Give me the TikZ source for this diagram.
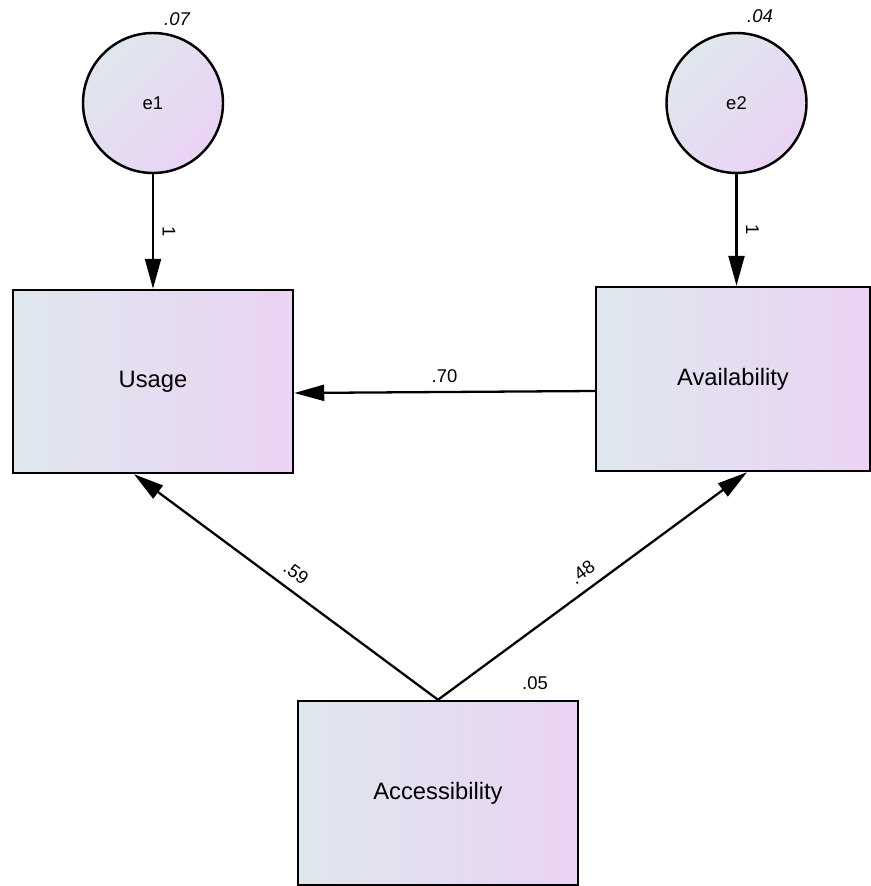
\documentclass[tikz,border=0pt]{standalone}
\usepackage{fontspec}
\setmainfont{Liberation Sans}
\usetikzlibrary{arrows.meta,positioning}
\definecolor{leftshade}{HTML}{DFE7EE}
\definecolor{rightshade}{HTML}{EAD3F3}
\newcommand{\edgefont}{\fontsize{10.5}{12}\selectfont}
\newcommand{\boxfont}{\fontsize{13.5}{16}\selectfont}

\begin{document}
\begin{tikzpicture}
        %\useasboundingbox keeps the page at the size of the scan
        \tikzset{observed/.style = {rectangle, draw, line width=1.4pt, left color=leftshade, right color=rightshade, minimum width=5.6cm, minimum height=3.66cm, font=\boxfont},
                 unique/.style = {circle, draw, line width=1.4pt, left color=leftshade, right color=rightshade, shading angle=45, minimum size=2.8cm, inner sep=0pt, font=\edgefont},
                 regline/.style = {draw, line width=1.3pt, -{Triangle[length=0.6cm, width=0.32cm]}},
                 coef/.style = {font=\edgefont}}
        \useasboundingbox (0,0) rectangle (17.42,-17.72);
        \node[unique] (e1) at (3.06,-2.06) {e1};
        \node[unique] (e2) at (14.73,-2.06) {e2};
        \node[observed] (usage) at (3.06,-7.63) {Usage};
        \node[observed, minimum width=5.48cm, minimum height=3.68cm] (avail) at (14.66,-7.58) {Availability};
        \node[observed, minimum height=3.68cm] (access) at (8.76,-15.86) {Accessibility};
        % variances
        \node[coef, font=\edgefont\itshape] (var1) at (3.54,-0.38) {.07};
        \node[coef, font=\edgefont\itshape] (var2) at (15.2,-0.32) {.04};
        \node[coef] (var3) at (10.7,-13.66) {.05};
        % paths
        \draw[regline] (e1) -- (usage) node[coef, midway, xshift=0.32cm, rotate=-90] {1};
        \draw[regline] (e2.south) -- (e2.south |- avail.north) node[coef, midway, xshift=0.32cm, rotate=-90] {1};
        \draw[regline] ([yshift=-0.24cm]avail.west) -- ([yshift=-0.23cm]usage.east) node[coef, midway, yshift=0.32cm] {.70};
        \draw[regline] (access.north) -- ([xshift=-0.38cm]usage.south) node[coef, midway, sloped, above=2pt] {.59};
        \draw[regline] (access.north) -- ([xshift=0.28cm]avail.south) node[coef, midway, sloped, above=2pt] {.48};
    \end{tikzpicture}
\end{document}
